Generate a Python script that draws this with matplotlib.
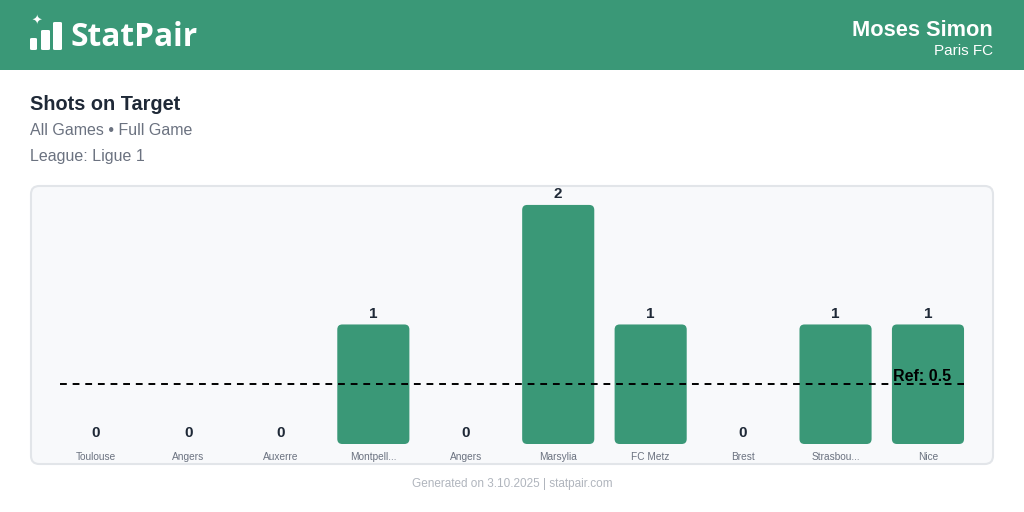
import matplotlib
matplotlib.use('Agg')
import matplotlib.pyplot as plt
from matplotlib.patches import FancyBboxPatch, Rectangle

plt.rcParams['font.family'] = ['Liberation Sans', 'DejaVu Sans']

opponents = ['Toulouse', 'Angers', 'Auxerre', 'Montpell...', 'Angers',
             'Marsylia', 'FC Metz', 'Brest', 'Strasbou...', 'Nice']
shots = [0, 0, 0, 1, 0, 2, 1, 0, 1, 1]
ref_value = 0.5

green = '#3a9877'
dark = '#1f2937'
gray = '#6b7280'

W, H = 1024, 512
fig = plt.figure(figsize=(W / 100, H / 100), dpi=100)
fig.patch.set_facecolor('white')


def fx(px):
    return px / W


def fy(py):
    return 1 - py / H


# header band
fig.patches.append(Rectangle((0, fy(70)), 1, 70 / H, transform=fig.transFigure,
                             facecolor=green, edgecolor='none', zorder=0))
# logo bars
for x0, x1, top in [(30, 37, 38), (41, 50, 30), (53, 62, 22)]:
    fig.patches.append(FancyBboxPatch((fx(x0), fy(50)), fx(x1 - x0), (50 - top) / H,
                                      boxstyle='round,pad=0,rounding_size=0.002',
                                      transform=fig.transFigure, facecolor='white',
                                      edgecolor='none', zorder=1))
fig.text(fx(37), fy(21), '\u2726', color='white', fontsize=9, ha='center', va='center',
         family=['DejaVu Sans'])
fig.text(fx(70), fy(38), 'StatPair', color='white', fontsize=22.8, fontweight='bold',
         ha='left', va='center', family=['Open Sans', 'DejaVu Sans'])
fig.text(fx(993), fy(31), 'Moses Simon', color='white', fontsize=15.7, fontweight='bold',
         ha='right', va='center')
fig.text(fx(993), fy(51), 'Paris FC', color='white', fontsize=11,
         ha='right', va='center')

# titles
fig.text(fx(30), fy(104.5), 'Shots on Target', color=dark, fontsize=14.3, fontweight='bold',
         ha='left', va='center')
fig.text(fx(30), fy(130.5), 'All Games \u2022 Full Game', color=gray, fontsize=11.5,
         ha='left', va='center')
fig.text(fx(30), fy(156.5), 'League: Ligue 1', color=gray, fontsize=11.5,
         ha='left', va='center')

# chart panel
fig.patches.append(FancyBboxPatch((fx(31), fy(464)), fx(962), (464 - 186) / H,
                                  boxstyle='round,pad=0,rounding_size=0.008',
                                  mutation_aspect=2,
                                  transform=fig.transFigure, facecolor='#f8f9fb',
                                  edgecolor='#e2e5e9', linewidth=1.5, zorder=0))

# axes
ax_left, ax_right = 49.8, 974.2
ax_bottom, ax_top = 444, 187
ax = fig.add_axes([fx(ax_left), fy(ax_bottom), fx(ax_right - ax_left), (ax_bottom - ax_top) / H])
ax.set_zorder(5)
ax.set_facecolor('none')
x = list(range(len(opponents)))
bars = ax.bar(x, shots, width=0.78, color=green)
ax.set_xlim(-0.5, len(opponents) - 0.5)
ax.set_ylim(0, 2.15)

# rounded bars
px_x = (ax_right - ax_left) / len(opponents)
px_y = (ax_bottom - ax_top) / 2.15
for b in bars:
    b.set_visible(False)
    if b.get_height() > 0:
        ax.add_patch(FancyBboxPatch((b.get_x(), b.get_y()), b.get_width(), b.get_height(),
                                    boxstyle='round,pad=0,rounding_size=%f' % (5 / px_x),
                                    mutation_aspect=px_x / px_y,
                                    facecolor=green, edgecolor='none', zorder=2))

for xi, v in zip(x, shots):
    ax.annotate(str(v), (xi, v), xytext=(0, 7.8), textcoords='offset points',
                ha='center', va='center', fontsize=11, fontweight='bold', color=dark)

# reference line
ax.hlines(ref_value, -0.39, len(opponents) - 1 + 0.39, colors='black',
          linestyles=(0, (3.5, 3)), linewidth=1.4, zorder=3)
ax.annotate('Ref: %g' % ref_value, (len(opponents) - 1 + 0.25, ref_value),
            xytext=(0, 0.5), textcoords='offset points', ha='right', va='bottom',
            fontsize=11.5, fontweight='bold', color='black', zorder=4)

ax.set_xticks(x)
ax.set_xticklabels(opponents, fontsize=7.3, color=gray)
ax.tick_params(axis='x', length=0, pad=5.5)
ax.set_yticks([])
for s in ax.spines.values():
    s.set_visible(False)

fig.text(0.5, fy(483.5), 'Generated on 3.10.2025 | statpair.com', color='#b0b5bd',
         fontsize=8.5, ha='center', va='center')

fig.savefig('out.png', dpi=100, facecolor='white')
